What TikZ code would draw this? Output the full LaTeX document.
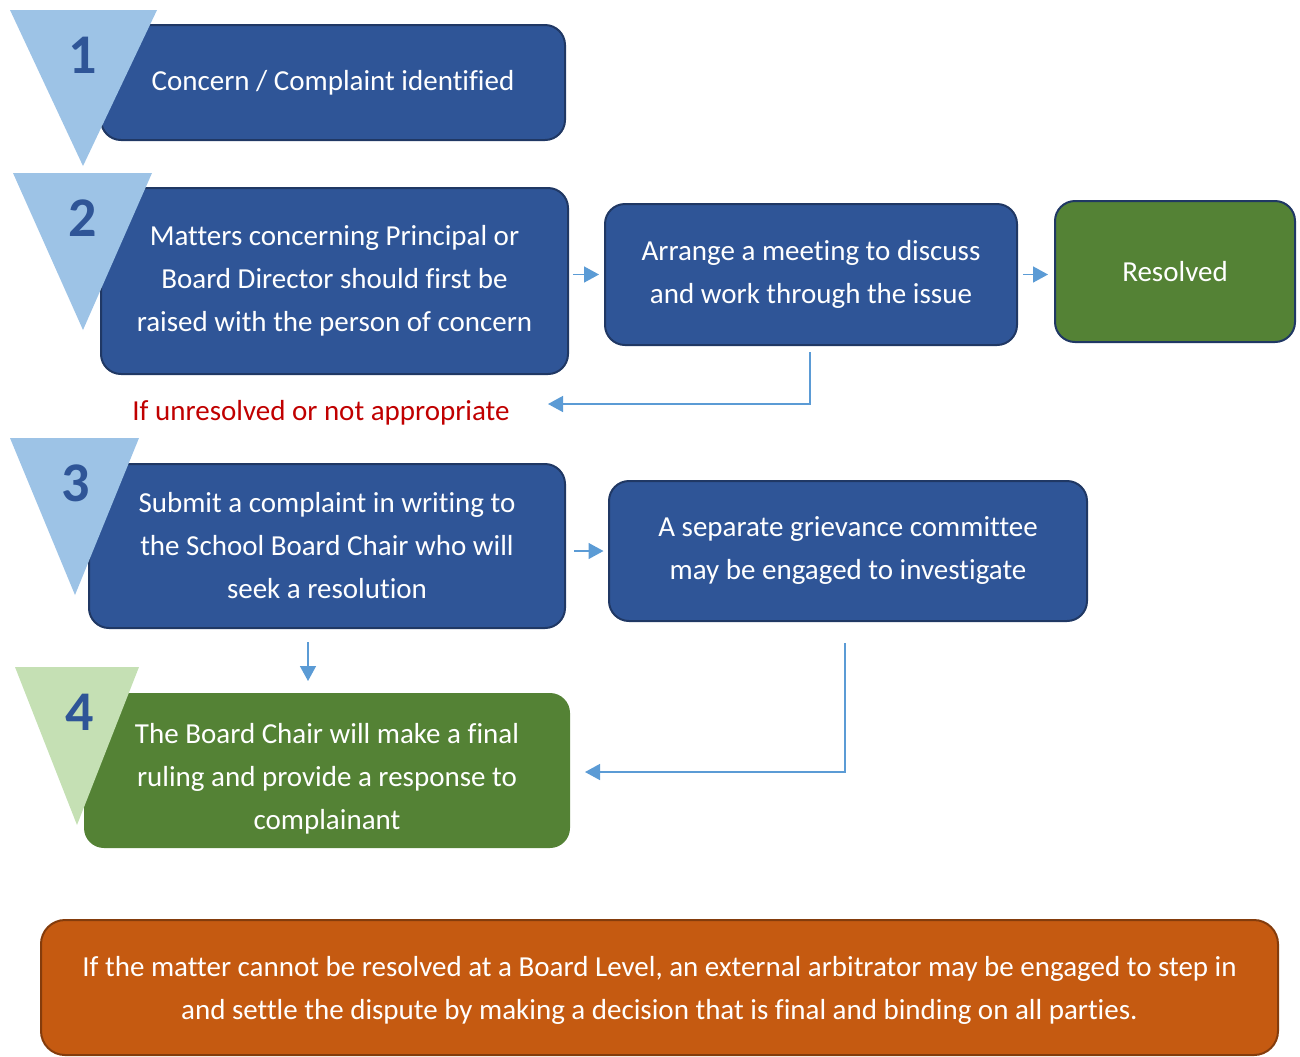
\documentclass[tikz,border=0pt]{standalone}
\usepackage{fontspec}
\setmainfont{Carlito}[Ligatures=NoCommon]
\usetikzlibrary{arrows.meta}
\definecolor{boxblue}{HTML}{2F5597}
\definecolor{navy}{HTML}{203864}
\definecolor{triblue}{HTML}{9DC3E6}
\definecolor{boxgreen}{HTML}{548235}
\definecolor{trigreen}{HTML}{C5E0B4}
\definecolor{boxorange}{HTML}{C55A11}
\definecolor{darkorange}{HTML}{843C0C}
\definecolor{alertred}{HTML}{C00000}
\definecolor{arrowblue}{HTML}{5B9BD5}
\begin{document}
\begin{tikzpicture}[x=0.5pt,y=-0.5pt,
  stepbox/.style={draw=navy, line width=1pt, fill=boxblue, rounded corners=10pt,
    inner sep=0pt, align=center, text=white, font=\fontsize{14.5pt}{21.5pt}\selectfont},
  greenbox/.style={stepbox, fill=boxgreen},
  greenplain/.style={stepbox, draw=none, fill=boxgreen},
  orangebox/.style={stepbox, fill=boxorange, draw=darkorange, rounded corners=12pt},
  numtext/.style={text=boxblue, font=\fontsize{28pt}{30pt}\selectfont\bfseries, inner sep=0pt},
  arr/.style={draw=arrowblue, line width=0.75pt, -{Triangle[length=7.5pt,width=8pt]}},
]
\useasboundingbox (0,0) rectangle (1300,1056);
\clip (0,0) rectangle (1300,1056);

% boxes
\node[stepbox, minimum width=232pt, minimum height=57.5pt] (box1) at (333,82.5)
  {Concern / Complaint identified};
\node[stepbox, minimum width=233.5pt, minimum height=93pt] (box2) at (334.5,281)
  {Matters concerning Principal or\\Board Director should first be\\raised with the person of concern};
\node[stepbox, minimum width=206pt, minimum height=70.5pt] (arrange) at (811,274.5)
  {Arrange a meeting to discuss\\and work through the issue};
\node[greenbox, minimum width=120pt, minimum height=70.5pt] (resolved) at (1175,271.5)
  {Resolved};
\node[stepbox, minimum width=238pt, minimum height=82pt] (box3) at (327,546)
  {Submit a complaint in writing to\\the School Board Chair who will\\seek a resolution};
\node[stepbox, minimum width=239pt, minimum height=70pt] (grievance) at (848,551)
  {A separate grievance committee\\may be engaged to investigate};
\node[greenplain, minimum width=243pt, minimum height=77.5pt] (box4) at (327,770.5)
  {\rule{0pt}{18pt}The Board Chair will make a final\\ruling and provide a response to\\complainant};
\node[orangebox, minimum width=618.5pt, minimum height=67.5pt] (bottom) at (659.5,987.5)
  {\rule{0pt}{13pt}If the matter cannot be resolved at a Board Level, an external arbitrator may be engaged to step in\\and settle the dispute by making a decision that is final and binding on all parties.};

\node[text=alertred, font=\fontsize{14.5pt}{21.5pt}\selectfont, inner sep=0pt] (unres) at (321,413)
  {If unresolved or not appropriate};

% triangles
\fill[triblue] (10,10) -- (157,10) -- (83,166) -- cycle;
\fill[triblue] (13,173) -- (152,173) -- (83,330) -- cycle;
\fill[triblue] (10,438) -- (139,438) -- (75,595) -- cycle;
\fill[trigreen] (15,667) -- (139,667) -- (77,825) -- cycle;

\node[numtext] (n1) at (83,55) {1};
\node[numtext] (n2) at (83,218) {2};
\node[numtext] (n3) at (76,483) {3};
\node[numtext] (n4) at (80,712) {4};

% connectors
\coordinate (c1) at (548,404);
\coordinate (c2) at (585,772);
\draw[arr, shorten <=2pt, shorten >=2.5pt] (arrange.west -| box2.east) -- (arrange.west);
\draw[arr, shorten <=2.5pt, shorten >=3pt] (arrange.east) -- (arrange.east -| resolved.west);
\draw[arr, shorten <=4pt, shorten >=2.25pt] (grievance.west -| box3.east) -- (grievance.west);
\draw[arr, shorten <=6.5pt, shorten >=5.5pt] ([xshift=-9.5pt]box3.south) -- ([xshift=-9.5pt]box3.south |- box4.north);
\draw[arr, shorten <=3pt] ([xshift=-0.5pt]arrange.south) |- (c1);
\draw[arr, shorten <=10.5pt] ([xshift=-1.5pt]grievance.south) |- (c2);
\end{tikzpicture}
\end{document}
